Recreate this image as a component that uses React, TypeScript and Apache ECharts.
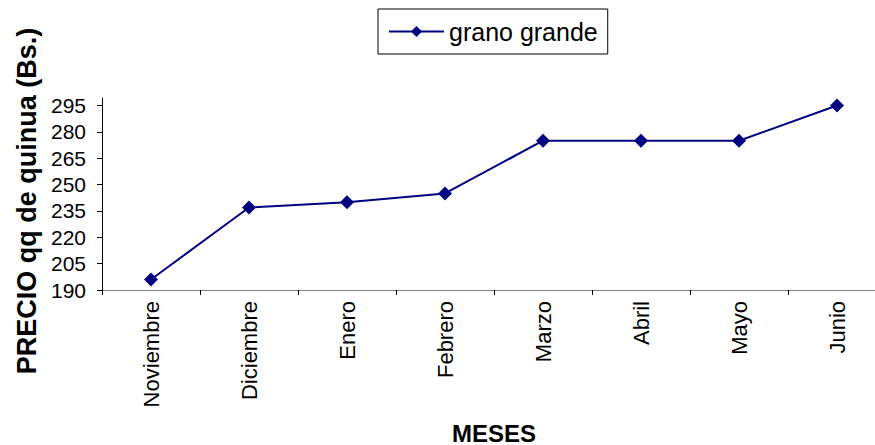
import React, { useEffect, useRef } from "react";
import * as echarts from "echarts";

const categories = ["Noviembre", "Diciembre", "Enero", "Febrero", "Marzo", "Abril", "Mayo", "Junio"];
const granoGrande = [196, 237, 240, 245, 275, 275, 275, 295];
const yTickLabels = [190, 205, 220, 235, 250, 265, 280, 295];
const seriesName = "grano grande";
const yAxisTitle = "PRECIO qq de quinua (Bs.)";
const xAxisTitle = "MESES";

const FONT = "'Liberation Sans', Arial, sans-serif";

export default function App() {
  const ref = useRef<HTMLDivElement>(null);
  useEffect(() => {
    if (!ref.current) return;
    const chart = echarts.init(ref.current, undefined, { renderer: "svg" });
    chart.setOption({
      animation: false,
      backgroundColor: "#ffffff",
      textStyle: { fontFamily: FONT, color: "#000" },
      legend: {
        left: 378,
        top: 9,
        data: [seriesName],
        orient: "horizontal",
        padding: [10, 10, 10, 10],
        borderColor: "#000",
        borderWidth: 1,
        itemWidth: 55,
        itemHeight: 14,
        itemGap: 5,
        textStyle: { fontFamily: FONT, fontSize: 25, color: "#000" },
      },
      grid: {
        left: 102,
        top: 98,
        width: 784,
        bottom: 155,
        containLabel: false,
        outerBoundsMode: "none",
      },
      xAxis: {
        type: "category",
        data: categories,
        boundaryGap: true,
        name: xAxisTitle,
        nameLocation: "middle",
        nameGap: 131,
        nameTextStyle: { fontFamily: FONT, fontSize: 24, fontWeight: "bold", color: "#000" },
        axisLine: { lineStyle: { color: "#808080", width: 1 } },
        axisTick: { show: true, length: 5, inside: false, lineStyle: { color: "#000" } },
        axisLabel: { rotate: 90, margin: 11, fontFamily: FONT, fontSize: 22, color: "#000" },
        splitLine: { show: false },
      },
      yAxis: {
        type: "value",
        min: 190,
        max: 299.3,
        interval: 15,
        name: yAxisTitle,
        nameLocation: "middle",
        nameGap: 58,
        nameRotate: 90,
        nameTextStyle: {
          fontFamily: FONT,
          fontSize: 27,
          fontWeight: "bold",
          color: "#000",
          padding: [0, 14, 0, 0],
        },
        axisLine: { show: true, lineStyle: { color: "#000", width: 1 } },
        axisTick: { show: true, length: 5, inside: false, lineStyle: { color: "#000" }, customValues: yTickLabels },
        axisLabel: {
          margin: 16,
          fontFamily: FONT,
          fontSize: 21,
          color: "#000",
          customValues: yTickLabels,
        },
        splitLine: { show: false },
      },
      series: [
        {
          name: seriesName,
          type: "line",
          data: granoGrande,
          symbol: "diamond",
          symbolSize: 14,
          lineStyle: { color: "#000080", width: 2 },
          itemStyle: { color: "#000080" },
        },
      ],
    });
    return () => chart.dispose();
  }, []);
  return (
    <div
      ref={ref}
      style={{ position: "fixed", left: 0, top: 0, width: 875, height: 445, background: "#fff" }}
    />
  );
}
